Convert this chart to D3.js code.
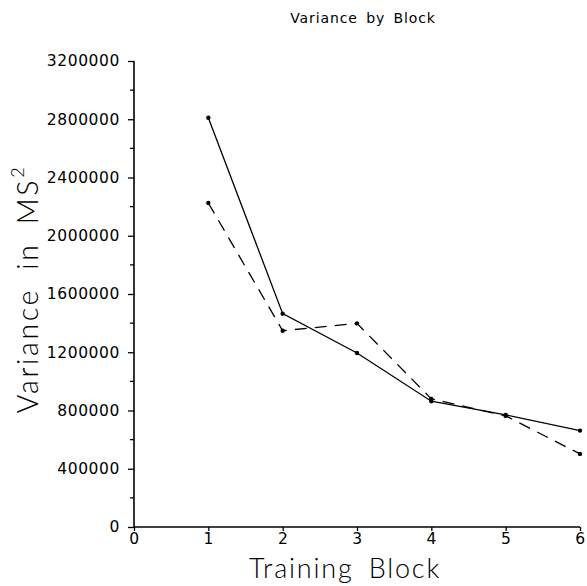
<!DOCTYPE html>
<html><head><meta charset="utf-8">
<script src="https://cdn.jsdelivr.net/npm/d3@7"></script>
<style>body{margin:0;background:#fff}svg{display:block}</style>
</head><body>
<script>
const blocks = [1, 2, 3, 4, 5, 6];
const solidSeries = [2810000, 1465000, 1195000, 864000, 770000, 662000];
const dashedSeries = [2225000, 1348000, 1398000, 880000, 763000, 502000];
const yTicks = [0, 400000, 800000, 1200000, 1600000, 2000000, 2400000, 2800000, 3200000];
const xTicks = [0, 1, 2, 3, 4, 5, 6];
const title = "Variance by Block";
const xLabel = "Training Block";

const W = 587, H = 586;
const svg = d3.select("body").append("svg").attr("width", W).attr("height", H);
const x = d3.scaleLinear().domain([0, 6]).range([134, 580]);
const y = d3.scaleLinear().domain([0, 3200000]).range([527, 61]);
const font = "'DejaVu Sans', sans-serif";
const lightFont = "Lato, 'DejaVu Sans', sans-serif";

svg.append("text").attr("x", 363).attr("y", 23).attr("text-anchor", "middle")
  .attr("font-family", font).attr("font-size", 14).attr("letter-spacing", 0.9).attr("word-spacing", 3).text(title);

// y axis
const ya = svg.append("g").attr("transform", "translate(134,0)")
  .call(d3.axisLeft(y).tickValues(yTicks).tickFormat(d3.format("d")).tickSize(6).tickPadding(8));
const minor = d3.range(200000, 3200000, 400000);
ya.selectAll(".minor").data(minor).join("line").attr("class", "minor")
  .attr("x1", -4).attr("x2", 0).attr("y1", d => y(d)).attr("y2", d => y(d)).attr("stroke", "#000").attr("stroke-width", 1.3);

// x axis
const xa = svg.append("g").attr("transform", "translate(0,527)")
  .call(d3.axisBottom(x).tickValues(xTicks).tickFormat(d3.format("d")).tickSize(4).tickPadding(2));

[ya, xa].forEach(g => {
  g.select(".domain").attr("stroke", "#000").attr("stroke-width", 1.6);
  g.selectAll(".tick line").attr("stroke", "#000").attr("stroke-width", 1.3);
  g.selectAll("text").attr("font-family", font).attr("font-size", 15.5).attr("fill", "#000").attr("letter-spacing", 0.6);
});
ya.select(".domain").attr("d", "M0,61V527");
xa.select(".domain").attr("d", "M134,0H580");

const line = d3.line().x((d, i) => x(blocks[i])).y(d => y(d));
svg.append("path").datum(solidSeries).attr("d", line).attr("fill", "none")
  .attr("stroke", "#000").attr("stroke-width", 1.3);
svg.append("path").datum(dashedSeries).attr("d", line).attr("fill", "none")
  .attr("stroke", "#000").attr("stroke-width", 1.3).attr("stroke-dasharray", "12,8");
[solidSeries, dashedSeries].forEach(s => {
  svg.append("g").selectAll("circle").data(s).join("circle")
    .attr("cx", (d, i) => x(blocks[i])).attr("cy", d => y(d)).attr("r", 2.2).attr("fill", "#000");
});

// axis titles
svg.append("text").attr("x", 345).attr("y", 578).attr("text-anchor", "middle")
  .attr("font-family", lightFont).attr("font-size", 27).attr("font-weight", 300).attr("fill", "#000")
  .attr("letter-spacing", 1.8).attr("word-spacing", 6).text(xLabel);
const yl = svg.append("text").attr("transform", "translate(38,289) rotate(-90)").attr("text-anchor", "middle")
  .attr("font-family", lightFont).attr("font-size", 28.5).attr("font-weight", 300).attr("fill", "#000")
  .attr("letter-spacing", 2.6).attr("word-spacing", 8);
yl.append("tspan").text("Variance in MS");
yl.append("tspan").attr("font-size", 18).attr("dy", -14).text("2");
</script>
</body></html>
